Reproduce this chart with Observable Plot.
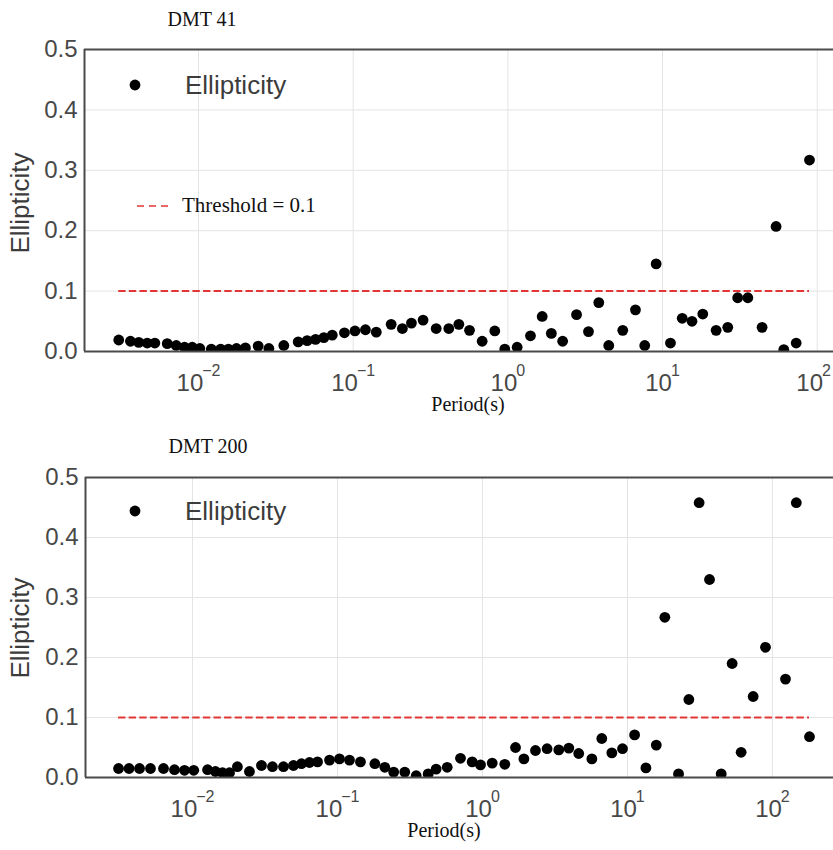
<!DOCTYPE html>
<html><head><meta charset="utf-8">
<script src="https://cdn.jsdelivr.net/npm/d3@7"></script>
<script src="https://cdn.jsdelivr.net/npm/@observablehq/plot@0.6"></script>
<style>
html,body{margin:0;padding:0;background:#fff;}
#wrap{position:relative;width:833px;height:850px;overflow:hidden;background:#fff;}
#wrap svg{position:absolute;left:0;}
</style></head><body><div id="wrap"></div>
<script>
const threshold = 0.1;
const xTicks = [0.01, 0.1, 1, 10, 100];
const yTicks = [0, 0.1, 0.2, 0.3, 0.4, 0.5];
const titles = ["DMT 41", "DMT 200"];
const xLabel = "Period(s)";
const yLabel = "Ellipticity";
const legendDot = "Ellipticity";
const legendLine = "Threshold = 0.1";

const dmt41Period = [0.00305,0.00363,0.00411,0.00466,0.00522,0.00628,0.00718,0.00812,0.00911,0.0102,
 0.0121,0.0139,0.0156,0.0176,0.0201,0.0243,0.0285,0.0356,0.0441,0.0504,
 0.0571,0.0646,0.0732,0.0878,0.1027,0.120,0.141,0.176,0.208,0.238,
 0.283,0.344,0.415,0.482,0.565,0.682,0.823,0.955,1.148,1.40,
 1.667,1.91,2.26,2.78,3.32,3.87,4.49,5.53,6.68,7.67,
 9.09,11.25,13.4,15.5,18.2,22.2,26.4,30.6,35.6,44.0,
 54.2,60.8,73.1,89.1];
const dmt41Ellipticity = [0.019,0.017,0.015,0.014,0.014,0.013,0.010,0.007,0.007,0.005,
 0.004,0.004,0.004,0.005,0.006,0.009,0.005,0.010,0.016,0.018,
 0.020,0.023,0.027,0.031,0.034,0.036,0.032,0.045,0.038,0.047,
 0.052,0.038,0.038,0.045,0.035,0.017,0.034,0.004,0.007,0.026,
 0.058,0.030,0.017,0.061,0.033,0.081,0.010,0.035,0.069,0.010,
 0.145,0.014,0.055,0.050,0.062,0.035,0.040,0.089,0.089,0.040,
 0.207,0.003,0.014,0.317];

const dmt200Period = [0.00309,0.00365,0.00431,0.00513,0.00631,0.00751,0.00881,0.0102,0.0127,0.0144,
 0.0161,0.0180,0.0204,0.0247,0.0299,0.0356,0.0424,0.0497,0.0564,0.0641,
 0.0728,0.0881,0.1032,0.121,0.144,0.181,0.212,0.244,0.291,0.349,
 0.422,0.479,0.571,0.705,0.849,0.969,1.167,1.425,1.69,1.93,
 2.32,2.79,3.36,3.94,4.61,5.68,6.65,7.80,9.24,11.2,
 13.4,15.8,18.1,22.5,26.5,31.2,36.8,44.3,52.7,60.8,
 73.6,89.5,123,146,180];
const dmt200Ellipticity = [0.015,0.015,0.015,0.015,0.015,0.013,0.012,0.012,0.013,0.010,
 0.008,0.008,0.018,0.010,0.020,0.018,0.018,0.020,0.023,0.025,
 0.026,0.029,0.031,0.029,0.026,0.023,0.017,0.009,0.009,0.003,
 0.006,0.014,0.017,0.032,0.026,0.021,0.024,0.022,0.050,0.031,
 0.045,0.048,0.046,0.049,0.040,0.031,0.065,0.041,0.048,0.071,
 0.016,0.054,0.267,0.006,0.130,0.458,0.330,0.006,0.190,0.042,
 0.135,0.217,0.164,0.458,0.068];

const ns = "http://www.w3.org/2000/svg";
const wrap = document.getElementById("wrap");
const SANS = "'Liberation Sans', Arial, sans-serif";
const SERIF = "'Liberation Serif', 'Times New Roman', serif";
const RED = "#e23636";
const FRAME = "#4a4a4a";
const GRID = "#e4e4e4";
const TICKC = "#484848";

const panels = [
  {title: titles[0], period: dmt41Period, ell: dmt41Ellipticity, top: 0, height: 420,
   mt: 49, mb: 69, ml: 84, xDomain: [0.001832, 127.4], showLine: true,
   titleX: 202, titleY: 26, xLabX: 468, xLabY: 411, yLabY: 203, legY: 85},
  {title: titles[1], period: dmt200Period, ell: dmt200Ellipticity, top: 420, height: 430,
   mt: 57, mb: 73, ml: 85, xDomain: [0.001828, 263.6], showLine: false,
   titleX: 208, titleY: 453, xLabX: 444, xLabY: 837, yLabY: 628, legY: 511}
];

function supify(svg) {
  svg.querySelectorAll('g[aria-label="x-axis tick label"] text').forEach(t => {
    const s = t.textContent;
    const parts = s.split("^");
    if (parts.length !== 2) return;
    while (t.firstChild) t.removeChild(t.firstChild);
    const a = document.createElementNS(ns, "tspan");
    a.textContent = parts[0];
    const b = document.createElementNS(ns, "tspan");
    b.textContent = parts[1].replace("-", "\u2212");
    b.setAttribute("font-size", "16");
    b.setAttribute("dy", "-15");
    b.setAttribute("dx", "-1");
    t.appendChild(a); t.appendChild(b);
  });
}

// keep tick labels inside the page's right edge
function fitRight(svg) {
  const limit = wrap.getBoundingClientRect().left + 831;
  svg.querySelectorAll('g[aria-label="x-axis tick label"] text').forEach(t => {
    const r = t.getBoundingClientRect();
    if (r.right > limit) {
      const first = t.querySelector("tspan");
      if (first) first.setAttribute("dx", (limit - r.right).toFixed(1));
    }
  });
}

panels.forEach(p => {
  const data = p.period.map((x, i) => ({period: x, ell: p.ell[i]}));
  const thr = [{y: threshold, x1: d3.min(p.period), x2: d3.max(p.period)}];
  const chart = Plot.plot({
    width: 833, height: p.height,
    marginTop: p.mt, marginBottom: p.mb, marginLeft: p.ml, marginRight: 0,
    style: {fontFamily: SANS, background: "transparent", color: TICKC, overflow: "visible"},
    x: {type: "log", domain: p.xDomain},
    y: {domain: [0, 0.5]},
    marks: [
      Plot.gridX(xTicks, {stroke: GRID, strokeOpacity: 1, strokeWidth: 1}),
      Plot.gridY([0.1, 0.2, 0.3, 0.4], {stroke: GRID, strokeOpacity: 1, strokeWidth: 1}),
      Plot.ruleY(thr, {y: "y", x1: "x1", x2: "x2", stroke: RED, strokeWidth: 2, strokeDasharray: "7.4,3.2"}),
      Plot.dot(data, {x: "period", y: "ell", r: 5.4, fill: "black", stroke: "none", clip: true}),
      Plot.ruleY([0, 0.5], {stroke: FRAME, strokeWidth: 2}),
      Plot.ruleX([p.xDomain[0]], {stroke: FRAME, strokeWidth: 2}),
      Plot.axisX(xTicks, {tickSize: 0, tickPadding: 22, fontSize: 24, label: null,
        tickFormat: d => `10^${Math.round(Math.log10(d))}`}),
      Plot.axisY(yTicks, {tickSize: 0, tickPadding: 7, fontSize: 24, label: null,
        tickFormat: d3.format(".1f")})
    ]
  });
  chart.style.top = p.top + "px";
  supify(chart);
  wrap.appendChild(chart);
  fitRight(chart);
});

// annotation overlay: titles, axis labels, legends
const ov = document.createElementNS(ns, "svg");
ov.setAttribute("width", 833); ov.setAttribute("height", 850);
ov.style.top = "0px"; ov.style.pointerEvents = "none";
function txt(str, x, y, opts) {
  const t = document.createElementNS(ns, "text");
  t.textContent = str;
  t.setAttribute("x", x); t.setAttribute("y", y);
  for (const k in opts) t.setAttribute(k, opts[k]);
  ov.appendChild(t);
  return t;
}
panels.forEach(p => {
  txt(p.title, p.titleX, p.titleY, {"font-family": SERIF, "font-size": 20, "text-anchor": "middle", fill: "#111"});
  txt(xLabel, p.xLabX, p.xLabY, {"font-family": SERIF, "font-size": 20, "text-anchor": "middle", fill: "#111"});
  txt(yLabel, 0, 0, {"font-family": SANS, "font-size": 26, "text-anchor": "middle", fill: "#3c3c3c",
    transform: `translate(29,${p.yLabY}) rotate(-90)`});
  const c = document.createElementNS(ns, "circle");
  c.setAttribute("cx", 135); c.setAttribute("cy", p.legY); c.setAttribute("r", 5.4); c.setAttribute("fill", "black");
  ov.appendChild(c);
  txt(legendDot, 185, p.legY + 9, {"font-family": SANS, "font-size": 26, fill: "#3c3c3c"});
  if (p.showLine) {
    const l = document.createElementNS(ns, "line");
    l.setAttribute("x1", 137); l.setAttribute("x2", 172); l.setAttribute("y1", 206); l.setAttribute("y2", 206);
    l.setAttribute("stroke", RED); l.setAttribute("stroke-width", 1.5); l.setAttribute("stroke-dasharray", "7,5");
    ov.appendChild(l);
    txt(legendLine, 182, 212, {"font-family": SERIF, "font-size": 21, fill: "#111"});
  }
});
wrap.appendChild(ov);
</script>
</body></html>
